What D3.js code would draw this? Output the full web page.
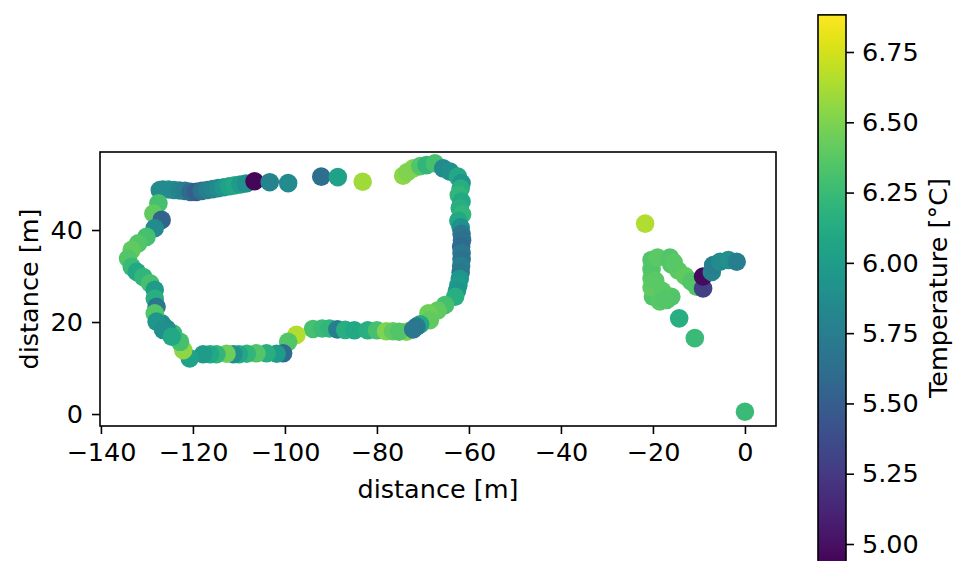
<!DOCTYPE html>
<html><head><meta charset="utf-8">
<script src="https://cdn.jsdelivr.net/npm/d3@7"></script>
<style>body{margin:0;background:#fff}svg{display:block}text{font-family:"DejaVu Sans",sans-serif;fill:#000}</style>
</head><body><svg id="c" width="956" height="561"></svg>
<script>
// --- data ---
const xs = [0,-10.9,-14.3,-17,-16,-20,-20.3,-20.3,-20.3,-20.3,-19,-16.3,-16,-14.5,-13,-11.7,-10.5,-18,-18.5,-17.5,-19.5,-15.5,-9.1,-9.1,-7.2,-6.9,-5.4,-3.6,-1.8,-21.7,
 -126.5,-125.3,-124.1,-122.9,-121.7,-120.5,-119.3,-118.1,-116.9,-115.7,-114.5,-113.3,-112.1,-110.9,-109.7,-108.5,-106.6,-103.3,-99.3,-92.1,-88.5,-83.1,
 -74.3,-73.4,-72.1,-70.6,-69.2,-67.4,-65.6,-64.1,-62.4,-61.6,
 -61.8,-62.2,-61.6,-62.0,-61.5,-62.3,-61.8,-61.6,-61.5,-61.7,-61.6,-61.6,-61.7,-61.8,-62.0,-62.3,-62.6,
 -63,-65.2,-66.8,-68.8,-68.5,-70.6,-71.4,-73.6,
 -93.9,-91.9,-90.3,-88.6,-86.9,-84.9,-82.0,-80.0,-78.0,-76.5,-75.2,-72.1,
 -97.5,-99.3,-100.4,
 -101.8,-104,-106.2,-108.3,-110,-111.2,-112.7,-114.9,-116.3,-117.8,
 -120.7,-122.1,-122.8,-124.3,-125.7,-126.8,
 -127.2,-127.5,-128.6,-126.8,-128.3,-130.1,-131.9,-133.3,-134.1,-133.3,-132.2,-130.8,-129.3,-128.3,-128.3,-127.9,-128.3,-127.9,-126.5,-124.6];
const ys = [0.5,16.5,20.8,24.8,25.5,25.5,27.5,29.5,31.5,33.5,34,34,32.5,31.2,30,28.8,27.7,26.8,24.5,25,29,33,27.3,29.9,30.9,32.4,33.1,33.5,33.1,41.4,
 48.8,48.8,48.7,48.6,48.5,48.3,48.3,48.5,48.7,48.9,49.1,49.3,49.5,49.7,49.9,50.1,50.6,50.4,50.2,51.6,51.5,50.5,
 51.8,52.6,53.4,53.9,54.1,54.5,53.4,52.7,51.6,50.2,
 49,47.6,46.2,44.8,43.4,42,40.6,39.2,37.8,36.4,35,33.6,32.2,30.8,29.4,28,26.8,
 25.5,23.7,22.5,21.9,20.4,19.5,19.0,17.9,
 18.5,18.6,18.6,18.4,18.3,18.2,18.2,18.2,18.0,18.0,17.9,18.4,
 17.2,15.7,13.2,
 13.1,13.2,13.2,13.1,13.0,13.0,13.1,13.0,13.0,13.0,
 12.1,13.9,15.7,17.5,18.6,19.7,
 48.7,45.8,43.6,42.2,40.4,38.5,37.1,35.7,33.8,32,30.9,29.8,28.4,27,25.1,23.3,21.9,20.1,18.3,16.8];
const temps = [6.25,6.25,6.15,6.35,6.35,6.35,6.4,6.38,6.35,6.35,6.38,6.35,6.35,6.38,6.4,6.35,6.35,6.38,6.37,6.36,6.38,6.37,5.3,4.98,5.8,5.75,5.85,5.9,5.75,6.65,
 5.85,5.9,5.85,5.8,5.75,5.6,5.5,5.65,5.75,5.8,5.85,5.95,6.05,6.1,6.0,5.9,4.95,5.8,5.85,5.62,6.05,6.6,
 6.55,6.5,6.5,6.35,6.2,6.3,5.85,5.9,6.1,5.95,
 6.15,6.2,6.1,6.15,6.2,6.1,5.9,5.7,5.65,5.6,5.7,5.65,5.75,5.7,5.95,6.0,5.95,
 6.15,6.3,6.4,6.45,6.4,6.1,5.72,6.5,
 6.3,6.25,6.2,5.75,6.15,6.1,6.15,6.3,6.5,6.4,6.35,5.7,
 6.65,6.35,5.6,
 6.0,6.15,6.35,6.2,6.1,5.9,6.45,6.2,6.1,6.0,
 6.05,6.55,6.3,6.25,5.9,5.85,
 5.85,6.3,6.4,5.55,5.85,6.3,6.35,6.4,6.35,6.25,6.1,6.2,6.3,6.0,6.15,5.7,6.35,5.95,5.9,6.1];
const xTicks = [-140,-120,-100,-80,-60,-40,-20,0];
const yTicks = [0,20,40];
const cTicks = [5.00,5.25,5.50,5.75,6.00,6.25,6.50,6.75];
const xLabel = "distance [m]", yLabel = "distance [m]", cLabel = "Temperature [°C]";
const vmin = 4.92, vmax = 6.882;

// --- layout ---
const svg = d3.select("#c");
const L=100, R=776, T=152, B=426;
const x = d3.scaleLinear().domain([-140.2, 6.75]).range([L, R]);
const y = d3.scaleLinear().domain([-2.6, 56.96]).range([B, T]);
const color = d3.scaleSequential(d3.interpolateViridis).domain([vmin, vmax]);
const FS = 25.5;

const pts = xs.map((d,i)=>({x:d,y:ys[i],t:temps[i]}));
svg.append("g").selectAll("circle").data(pts).join("circle")
  .attr("cx",d=>x(d.x)).attr("cy",d=>y(d.y)).attr("r",9.3)
  .attr("fill",d=>color(d.t));

svg.append("rect").attr("x",L).attr("y",T).attr("width",R-L).attr("height",B-T)
  .attr("fill","none").attr("stroke","#000").attr("stroke-width",1.6);

const xa = svg.append("g").attr("transform",`translate(0,${B})`)
  .call(d3.axisBottom(x).tickValues(xTicks).tickSize(8).tickPadding(9).tickFormat(d3.format("d")));
const ya = svg.append("g").attr("transform",`translate(${L},0)`)
  .call(d3.axisLeft(y).tickValues(yTicks).tickSize(8).tickPadding(9).tickFormat(d3.format("d")));
[xa,ya].forEach(a=>{a.select(".domain").remove();a.selectAll("line").attr("stroke","#000").attr("stroke-width",1.6);
  a.selectAll("text").attr("font-size",FS).attr("font-family","DejaVu Sans").attr("fill","#000");});

svg.append("text").attr("x",(L+R)/2).attr("y",498).attr("text-anchor","middle").attr("font-size",FS).text(xLabel);
svg.append("text").attr("transform",`translate(38,${(T+B)/2}) rotate(-90)`).attr("text-anchor","middle").attr("font-size",FS).text(yLabel);

// --- colorbar ---
const CL=818, CR=846;
const cyFull = d3.scaleLinear().domain([6.75, 5.00]).range([52, 544]);
const CB = cyFull(vmin), CTop = cyFull(vmax);
const grad = svg.append("defs").append("linearGradient").attr("id","vg").attr("x1",0).attr("y1",1).attr("x2",0).attr("y2",0);
d3.range(0,1.0001,0.02).forEach(s=>grad.append("stop").attr("offset",s).attr("stop-color",d3.interpolateViridis(s)));
svg.append("rect").attr("x",CL).attr("y",CTop).attr("width",CR-CL).attr("height",CB-CTop).attr("fill","url(#vg)")
  .attr("stroke","#000").attr("stroke-width",1.6);
const ca = svg.append("g").attr("transform",`translate(${CR},0)`)
  .call(d3.axisRight(cyFull).tickValues(cTicks).tickSize(8).tickPadding(8).tickFormat(d3.format(".2f")));
ca.select(".domain").remove();
ca.selectAll("line").attr("stroke","#000").attr("stroke-width",1.6);
ca.selectAll("text").attr("font-size",FS).attr("font-family","DejaVu Sans").attr("fill","#000");
svg.append("text").attr("transform",`translate(947,288) rotate(-90)`).attr("text-anchor","middle").attr("font-size",FS).text(cLabel);
</script></body></html>
